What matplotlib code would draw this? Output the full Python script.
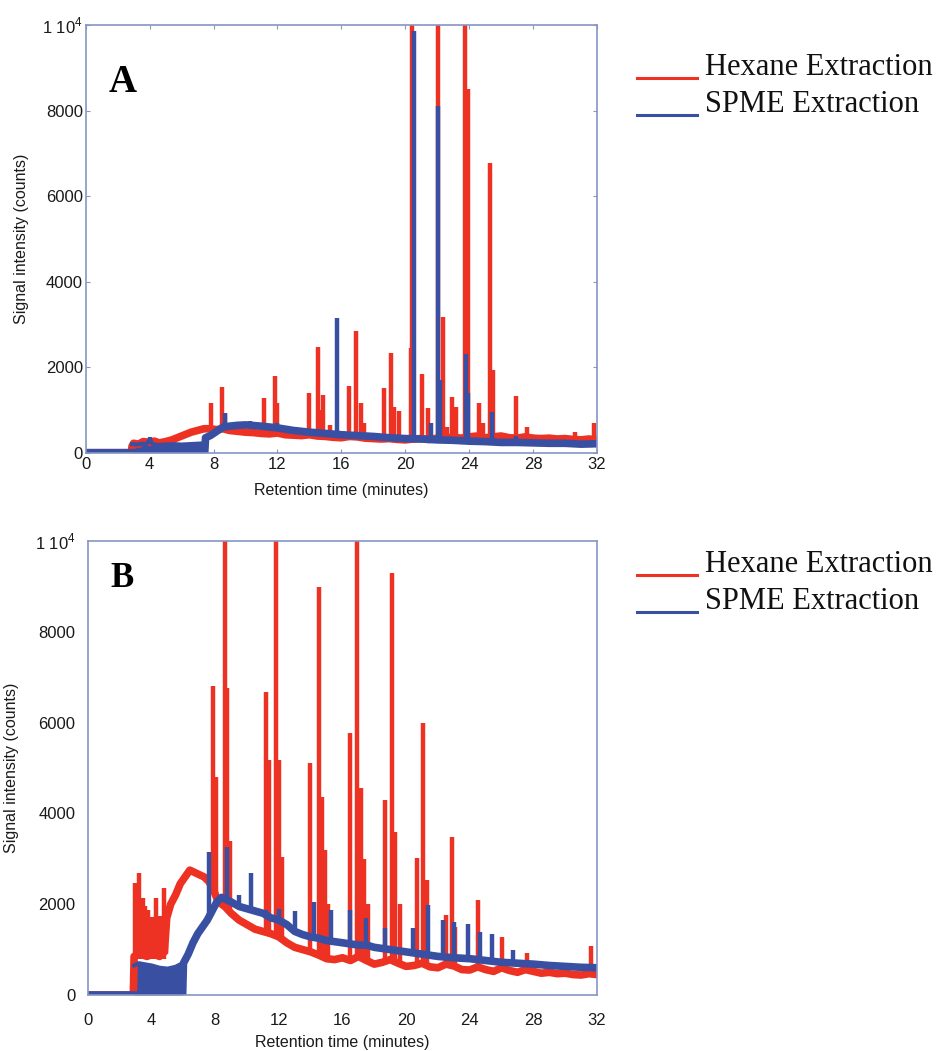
import numpy as np
import matplotlib
matplotlib.use("Agg")
from matplotlib import pyplot as plt
from matplotlib.lines import Line2D

plt.rcParams['font.family'] = ['Liberation Sans', 'DejaVu Sans']
plt.rcParams['mathtext.fontset'] = 'custom'
plt.rcParams['mathtext.rm'] = 'Liberation Sans'

RED = '#ED3224'
BLUE = '#3950A2'
SPINE = '#8795C4'

# ---------------- panel A ----------------
# hexane extraction, baseline trace (minutes, counts)
a_hex_t = [0, 2.85, 2.9, 3.0, 3.3, 3.6, 4.0, 4.3, 4.6, 5.0, 5.4, 5.8, 6.2, 6.6, 7.0, 7.4, 7.8,
           8.2, 8.6, 9.0, 9.5, 10, 10.5, 11, 11.5, 12, 12.5, 13, 13.5, 14, 14.5, 15, 15.5, 16,
           16.5, 17, 17.5, 18, 18.5, 19, 19.5, 20, 20.5, 21, 21.5, 22, 22.5, 23, 23.5, 24,
           24.5, 25, 25.5, 26, 26.5, 27, 27.5, 28, 28.5, 29, 29.5, 30, 30.5, 31, 31.5, 32]
a_hex_y = [0, 0, 150, 220, 200, 260, 240, 270, 230, 260, 300, 360, 420, 480, 520, 560, 560,
           540, 560, 520, 500, 480, 470, 450, 440, 460, 420, 410, 400, 420, 390, 380, 360, 350,
           380, 370, 340, 330, 320, 330, 310, 300, 320, 330, 310, 340, 350, 360, 340, 370,
           390, 350, 370, 390, 350, 340, 370, 340, 330, 340, 320, 330, 310, 300, 320, 300]
# hexane peaks: time, foot, top
a_hex_pk_t = [7.87, 8.56, 8.7, 11.15, 11.83, 12.0, 13.96, 14.53, 14.7, 14.83, 15.3, 16.46,
              16.94, 17.2, 17.4, 18.7, 19.08, 19.3, 19.6, 20.35, 20.45, 21.05, 21.45, 22.05,
              22.35, 22.6, 22.95, 23.2, 23.75, 23.9, 24.6, 24.85, 25.28, 25.5, 26.9, 27.6,
              30.6, 31.8]
a_hex_pk_lo = [520, 540, 540, 450, 440, 440, 400, 390, 390, 380, 360, 360, 370, 350, 340,
               320, 330, 320, 310, 300, 300, 310, 300, 320, 330, 330, 330, 340, 350, 350,
               380, 340, 360, 360, 340, 330, 300, 290]
a_hex_pk_hi = [1160, 1540, 900, 1280, 1790, 1160, 1400, 2470, 1000, 1340, 640, 1560, 2840,
               1160, 700, 1520, 2340, 1080, 985, 2440, 10500, 1840, 1040, 10500, 3170, 600,
               1310, 1080, 10500, 8500, 1170, 700, 6770, 1940, 1330, 590, 490, 700]

# SPME extraction: noisy band at the start, then baseline trace
a_spme_band_t = [2.9, 3.2, 3.5, 3.8, 4.0, 4.2, 4.5, 5.0, 5.5, 6.0, 6.5, 7.0, 7.45]
a_spme_band_y = [200, 190, 210, 200, 300, 200, 180, 190, 200, 190, 200, 210, 220]
a_spme_t = [0, 2.85, 2.9, 7.45, 7.5, 7.8, 8.2, 8.6, 9.0, 9.5, 10, 11, 12, 13, 14, 15, 16, 17,
            18, 19, 20, 21, 22, 23, 24, 25, 26, 27, 28, 29, 30, 31, 32]
a_spme_y = [0, 0, 0, 0, 350, 400, 500, 600, 620, 640, 650, 620, 580, 520, 480, 450, 420,
            400, 380, 350, 330, 320, 300, 290, 270, 260, 240, 240, 230, 220, 220, 200, 210]
a_spme_pk_t = [4.0, 8.7, 10.3, 12.0, 15.7, 20.55, 21.6, 22.05, 22.2, 23.8, 23.95, 25.45, 26.9]
a_spme_pk_lo = [200, 550, 620, 580, 430, 330, 310, 300, 300, 280, 280, 250, 240]
a_spme_pk_hi = [360, 930, 750, 700, 3150, 9850, 700, 8100, 1700, 2300, 1400, 950, 400]

# ---------------- panel B ----------------
b_hex_t = [0, 2.85, 2.9, 3.3, 3.7, 4.1, 4.5, 4.8, 4.95, 5.2, 5.5, 5.8, 6.1,
           6.4, 6.7, 7.0, 7.3, 7.6, 7.9, 8.2, 8.6, 9.0, 9.5, 10, 10.5, 11, 11.5, 12, 12.5,
           13, 13.5, 14, 14.5, 15, 15.5, 16, 16.5, 17, 17.5, 18, 18.5, 19, 19.5, 20, 20.5,
           21, 21.5, 22, 22.5, 23, 23.5, 24, 24.5, 25, 25.5, 26, 26.5, 27, 27.5, 28, 28.5,
           29, 29.5, 30, 30.5, 31, 31.5, 32]
b_hex_y = [0, 0, 850, 900, 850, 900, 850, 950, 1700, 2000, 2200, 2450, 2600,
           2750, 2700, 2650, 2600, 2500, 2300, 2050, 1950, 1800, 1650, 1550, 1450, 1400,
           1350, 1280, 1150, 1050, 1000, 950, 880, 800, 780, 820, 760, 850, 760, 680, 720,
           780, 700, 630, 650, 700, 620, 600, 680, 640, 560, 550, 620, 560, 520, 600, 540,
           500, 560, 520, 480, 500, 470, 480, 450, 440, 470, 450]
b_hex_pk_t = [2.95, 3.2, 3.45, 3.6, 3.8, 4.0, 4.15, 4.3, 4.5, 4.75, 4.88,
              7.86, 8.05, 8.62, 8.75, 8.95, 11.2, 11.35, 11.8, 12.0, 12.2, 13.96, 14.53,
              14.7, 14.9, 15.1, 16.48, 16.9, 17.15, 17.35, 17.6, 18.7, 19.1, 19.3, 19.6,
              20.7, 21.05, 21.3, 22.5, 22.9, 23.1, 24.5, 26.0, 27.6, 31.6]
b_hex_pk_lo = [800, 800, 800, 800, 800, 800, 800, 800, 800, 800, 900,
               2300, 2100, 1950, 1950, 1850, 1400, 1380, 1300, 1280, 1250, 950, 900, 880,
               850, 800, 780, 800, 800, 780, 760, 700, 750, 720, 700, 640, 680, 650, 620,
               640, 600, 580, 560, 520, 450]
b_hex_pk_hi = [2470, 2690, 2140, 1960, 1870, 1720, 1500, 2140, 1740, 2350, 1900,
               6800, 4800, 10500, 6760, 3400, 6670, 5170, 10500, 5170, 3030, 5100, 8990,
               4360, 3190, 2000, 5770, 10500, 4560, 3000, 2000, 4300, 9290, 3590, 2000,
               3020, 5990, 2540, 1760, 3480, 1500, 2090, 1280, 920, 1080]

b_spme_band_t = [2.9, 3.2, 3.5, 4.0, 4.5, 5.0, 5.5, 5.95]
b_spme_band_y = [650, 700, 680, 650, 600, 580, 620, 700]
b_spme_t = [0, 2.85, 2.9, 5.95, 6.0, 6.3, 6.6, 6.9, 7.2, 7.5, 7.8, 8.1, 8.4, 8.7, 9.0, 9.5,
            10, 10.5, 11, 11.5, 12, 12.5, 13, 13.5, 14, 14.5, 15, 16, 17, 17.5, 18, 19, 20,
            21, 22, 23, 24, 25, 26, 27, 28, 29, 30, 31, 32]
b_spme_y = [0, 0, 0, 0, 700, 900, 1150, 1350, 1500, 1650, 1850, 2050, 2150, 2100, 2050,
            1950, 1900, 1850, 1800, 1700, 1650, 1550, 1400, 1330, 1280, 1250, 1200, 1150,
            1100, 1100, 1050, 1000, 950, 900, 850, 820, 800, 760, 720, 700, 680, 650, 630,
            610, 600]
b_spme_pk_t = [7.6, 8.75, 9.5, 10.25, 11.2, 12.0, 13.0, 14.2, 15.3, 16.5, 17.5, 18.7,
               20.45, 21.4, 22.3, 23.0, 23.9, 24.65, 25.4, 26.7]
b_spme_pk_lo = [1700, 2100, 1950, 1900, 1800, 1650, 1450, 1300, 1200, 1150, 1080, 1030,
                900, 870, 830, 800, 790, 780, 750, 700]
b_spme_pk_hi = [3150, 3260, 2200, 2690, 1870, 1900, 1850, 2050, 1870, 1870, 1700, 1470,
                1480, 1980, 1650, 1600, 1570, 1390, 1350, 1000]

yticks = [0, 2000, 4000, 6000, 8000, 10000]
ytick_labels = ['0', '2000', '4000', '6000', '8000', r'1 10$^{4}$']
xticks = [0, 4, 8, 12, 16, 20, 24, 28, 32]

W, H = 936, 1051
fig = plt.figure(figsize=(W / 100, H / 100), dpi=100)


def panel(rect, hex_t, hex_y, hpt, hlo, hhi, band_t, band_y, sp_t, sp_y, spt, slo, shi):
    ax = fig.add_axes(rect)
    ax.plot(hex_t, hex_y, color=RED, lw=5.5)
    ax.vlines(hpt, hlo, hhi, color=RED, lw=3.2)
    ax.fill_between(band_t, 0, band_y, color=BLUE, lw=0)
    ax.plot(band_t, band_y, color=BLUE, lw=3)
    ax.plot(sp_t, sp_y, color=BLUE, lw=5.5)
    ax.vlines(spt, slo, shi, color=BLUE, lw=3.2)
    ax.set_xlim(0, 32)
    ax.set_ylim(0, 10000)
    ax.set_xticks(xticks)
    ax.set_yticks(yticks)
    ax.set_yticklabels(ytick_labels)
    for s in ax.spines.values():
        s.set_color(SPINE)
        s.set_linewidth(1.2)
        s.set_zorder(5)
    return ax


axA = panel([85.7 / W, 1 - 452.7 / H, 511.3 / W, 427.7 / H],
            a_hex_t, a_hex_y, a_hex_pk_t, a_hex_pk_lo, a_hex_pk_hi,
            a_spme_band_t, a_spme_band_y, a_spme_t, a_spme_y,
            a_spme_pk_t, a_spme_pk_lo, a_spme_pk_hi)
axA.tick_params(direction='in', length=3, width=0.8, color=SPINE, top=True, right=True,
                labelsize=12, labelcolor='#1a1a1a', pad=2)
axA.tick_params(axis='x', pad=3)

axB = panel([88 / W, 1 - 995 / H, 509 / W, 454 / H],
            b_hex_t, b_hex_y, b_hex_pk_t, b_hex_pk_lo, b_hex_pk_hi,
            b_spme_band_t, b_spme_band_y, b_spme_t, b_spme_y,
            b_spme_pk_t, b_spme_pk_lo, b_spme_pk_hi)
axB.tick_params(length=0, labelsize=12, labelcolor='#1a1a1a', pad=9)
axB.tick_params(axis='x', pad=13)

# axis titles
lab = dict(fontsize=11.5, color='#1a1a1a', ha='center', va='center')
fig.text(341 / W, 1 - 490 / H, 'Retention time (minutes)', **lab)
fig.text(342 / W, 1 - 1043 / H, 'Retention time (minutes)', **lab)
fig.text(22 / W, 1 - 239 / H, 'Signal intensity (counts)', rotation=90, **lab)
fig.text(12 / W, 1 - 768 / H, 'Signal intensity (counts)', rotation=90, **lab)

# panel letters
fig.text(109 / W, 1 - 92 / H, 'A', family='Liberation Serif', weight='bold', fontsize=28,
         va='baseline')
fig.text(110 / W, 1 - 587 / H, 'B', family='Liberation Serif', weight='bold', fontsize=25,
         va='baseline')

# legends
for off in (0, 497):
    for y_line, y_txt, col, txt in ((78, 75, RED, 'Hexane Extraction'),
                                    (115, 112, BLUE, 'SPME Extraction')):
        fig.add_artist(Line2D([637 / W, 697 / W], [1 - (y_line + off) / H] * 2,
                              color=col, lw=2.2, transform=fig.transFigure))
        fig.text(705 / W, 1 - (y_txt + off) / H, txt, family='Liberation Serif',
                 fontsize=22, va='baseline', ha='left', color='#111111')

fig.savefig('out.png', dpi=100)
